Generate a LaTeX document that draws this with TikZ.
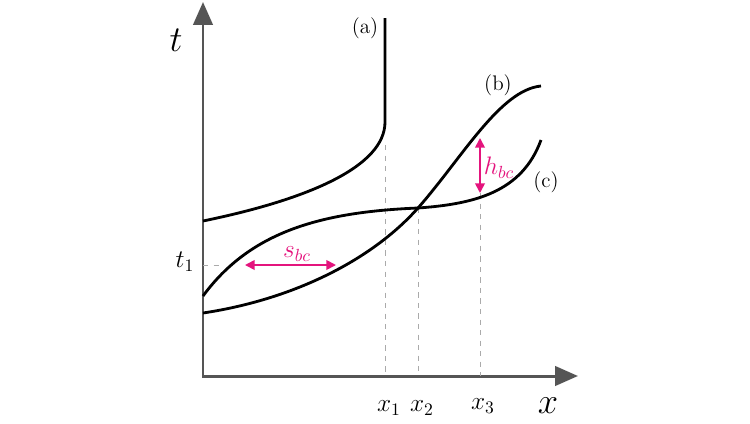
\documentclass[tikz,border=0pt]{standalone}
\usepackage{amsmath}
\usetikzlibrary{arrows.meta}

\definecolor{axisgray}{RGB}{85,85,85}
\definecolor{guidegray}{RGB}{170,170,170}
\definecolor{magentapink}{RGB}{228,20,125}

\tikzset{
  axis/.style={line width=1.7pt, draw=axisgray},
  curve/.style={line width=1.6pt, black},
  guide/.style={dashed, guidegray, line width=0.5pt},
  gap/.style={magentapink, line width=1pt, {Triangle[length=5.5pt,width=5.5pt]}-{Triangle[length=5.5pt,width=5.5pt]}},
  gaplabel/.style={magentapink, font=\Large}
}

\begin{document}
\begin{tikzpicture}[x=0.02cm, y=-0.02cm]
  \useasboundingbox (0,0) rectangle (750,423);

  % Ejes
  \coordinate (O) at (203,376);
  \coordinate (tEnd) at (203,2);
  \coordinate (xEnd) at (578,376);
  \draw[axis, {Triangle[length=13pt,width=11pt]}-{Triangle[length=13pt,width=11pt]}] (xEnd) -- (O) -- (tEnd);
  \node (tlab) at (176,40) {\huge $t$};
  \node (xlab) at (548,406) {\huge $x$};

  % Puntos de las curvas
  \coordinate (a0) at (203,221);
  \coordinate (a1) at (385,122);
  \coordinate (a2) at (385,18);
  \coordinate (b0) at (203,313);
  \coordinate (X) at (418,208);
  \coordinate (b2) at (541,86);
  \coordinate (c0) at (203,296);
  \coordinate (c2) at (541,140);

  % Lineas de referencia
  \coordinate (x1top) at (385,145);
  \coordinate (x1bot) at (385,376);
  \coordinate (x2bot) at (418,376);
  \coordinate (hTop) at (480,138);
  \coordinate (hBot) at (480,193);
  \coordinate (x3bot) at (480,376);
  \coordinate (t1L) at (203,265);
  \coordinate (t1R) at (222,265);
  \draw[guide] (x1top) -- (x1bot);
  \draw[guide] (X) -- (x2bot);
  \draw[guide] (hBot) -- (x3bot);
  \draw[guide] (t1L) -- (t1R);

  % Curva (a)
  \draw[curve] (a0) .. controls (310,199) and (385,166) .. (a1) -- (a2);
  % Curva (b)
  \draw[curve] (b0) .. controls (290,300) and (370,262) .. (X)
    .. controls (462,158) and (500,90) .. (b2);
  % Curva (c)
  \draw[curve] (c0) .. controls (250,232) and (320,212) .. (X)
    .. controls (475,204) and (522,192) .. (c2);

  % Etiquetas de las curvas
  \node (la) at (365,28) {\large (a)};
  \node (lb) at (498,85) {\large (b)};
  \node (lc) at (546,182) {\large (c)};

  % Distancias entre (b) y (c)
  \coordinate (sL) at (245,265);
  \coordinate (sR) at (336,265);
  \draw[gap] (hTop) -- (hBot);
  \node[gaplabel] (hlab) at (499,168) {$h_{bc}$};
  \draw[gap] (sL) -- (sR);
  \node[gaplabel] (slab) at (297,254) {$s_{bc}$};

  % Marcas en los ejes
  \node (t1lab) at (185,262) {\Large $t_1$};
  \node (x1lab) at (389,408) {\Large $x_1$};
  \node (x2lab) at (422,408) {\Large $x_2$};
  \node (x3lab) at (483,406) {\Large $x_3$};
\end{tikzpicture}
\end{document}
